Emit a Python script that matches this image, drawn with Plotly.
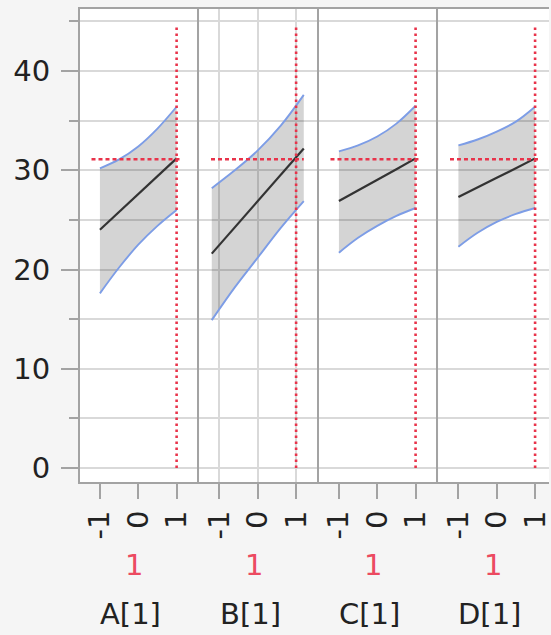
import plotly.graph_objects as go
from plotly.subplots import make_subplots

# ---- data ----
factors = ["A[1]", "B[1]", "C[1]", "D[1]"]
current_values = ["1", "1", "1", "1"]
current_x = [1, 1, 1, 1]
predicted = 31.1

x_A = [-1, -0.5, 0, 0.5, 1]
x_B = [-1.2, -0.6, 0, 0.6, 1.2]
x_C = [-1, -0.5, 0, 0.5, 1]
x_D = [-1, -0.5, 0, 0.5, 1]

center_A = [24.0, 25.8, 27.6, 29.4, 31.2]
upper_A = [30.2, 31.1, 32.4, 34.2, 36.4]
lower_A = [17.6, 20.2, 22.5, 24.4, 26.0]

center_B = [21.6, 24.25, 26.9, 29.55, 32.2]
upper_B = [28.2, 30.0, 32.0, 34.5, 37.6]
lower_B = [14.9, 18.2, 21.2, 24.2, 26.9]

center_C = [26.9, 27.95, 29.05, 30.1, 31.2]
upper_C = [31.9, 32.5, 33.4, 34.7, 36.5]
lower_C = [21.7, 23.2, 24.4, 25.4, 26.2]

center_D = [27.3, 28.3, 29.25, 30.2, 31.2]
upper_D = [32.5, 33.1, 33.9, 34.9, 36.4]
lower_D = [22.3, 23.7, 24.8, 25.6, 26.2]

x_ticks = [-1, 0, 1]
x_tick_text = ["-1", "0", "1"]
y_ticks = [0, 10, 20, 30, 40]

panels = [
    (x_A, center_A, upper_A, lower_A),
    (x_B, center_B, upper_B, lower_B),
    (x_C, center_C, upper_C, lower_C),
    (x_D, center_D, upper_D, lower_D),
]
hline_span = [(-1.22, 1.14), (-1.22, 1.2), (-1.22, 1.12), (-1.22, 1.12)]
vline_top = 44.4

# ---- styles ----
BLUE = "#7d9de6"
RED = "#e8334a"
GRID = "#d9d9d9"
BORDER = "#a3a3a3"
FONT = "DejaVu Sans"
TXT = "#222222"

fig = make_subplots(rows=1, cols=4, shared_yaxes=True, horizontal_spacing=0)

for i, (xs, c, u, l) in enumerate(panels):
    col = i + 1
    fig.add_trace(go.Scatter(x=xs, y=l, mode="lines",
                             line=dict(color=BLUE, width=1.9, shape="spline", smoothing=1),
                             hoverinfo="skip", showlegend=False), row=1, col=col)
    fig.add_trace(go.Scatter(x=xs, y=u, mode="lines", fill="tonexty",
                             fillcolor="rgba(0,0,0,0.17)",
                             line=dict(color=BLUE, width=1.9, shape="spline", smoothing=1),
                             hoverinfo="skip", showlegend=False), row=1, col=col)
    fig.add_trace(go.Scatter(x=xs, y=c, mode="lines",
                             line=dict(color="#333333", width=2.2),
                             hoverinfo="skip", showlegend=False), row=1, col=col)
    x0, x1 = hline_span[i]
    fig.add_trace(go.Scatter(x=[x0, x1], y=[predicted, predicted], mode="lines",
                             line=dict(color=RED, width=2.5, dash="4px,3px"),
                             hoverinfo="skip", showlegend=False), row=1, col=col)
    fig.add_trace(go.Scatter(x=[current_x[i], current_x[i]], y=[0, vline_top], mode="lines",
                             line=dict(color=RED, width=2.6, dash="2.6px,3.4px"),
                             hoverinfo="skip", showlegend=False), row=1, col=col)

# layout geometry
W, H = 551, 635
left, top, bottom_px = 80, 9, 482
plot_w = W - left
pw = 120
domains = [[0, pw / plot_w], [pw / plot_w, 2 * pw / plot_w],
           [2 * pw / plot_w, 3 * pw / plot_w], [3 * pw / plot_w, 1]]
ppu = 38.5
x_lo = -1.52
xranges = [[x_lo, x_lo + pw / ppu]] * 3 + [[x_lo, x_lo + (plot_w - 3 * pw) / ppu]]

for i in range(4):
    key = "xaxis" if i == 0 else f"xaxis{i+1}"
    fig.layout[key].update(
        domain=domains[i], range=xranges[i],
        tickmode="array", tickvals=x_ticks, ticktext=x_tick_text, tickangle=-90,
        ticks="outside", ticklen=15, tickwidth=2, tickcolor=BORDER,
        tickfont=dict(family=FONT, size=29, color=TXT),
        ticklabeloverflow="allow",
        showline=True, linecolor=BORDER, linewidth=2, mirror=True,
        showgrid=(i == 1), gridcolor=GRID, gridwidth=2,
        zeroline=False, fixedrange=True,
    )
    ykey = "yaxis" if i == 0 else f"yaxis{i+1}"
    fig.layout[ykey].update(
        range=[-1.41, 46.25], tickvals=y_ticks,
        showgrid=True, gridcolor=GRID, gridwidth=1.8,
        minor=dict(dtick=5, tick0=0, showgrid=True, gridcolor=GRID, gridwidth=1.8,
                   ticks="outside" if i == 0 else "", ticklen=9, tickwidth=2,
                   tickcolor=BORDER),
        ticks="outside" if i == 0 else "", ticklen=17, tickwidth=2, tickcolor=BORDER,
        showticklabels=(i == 0),
        tickfont=dict(family=FONT, size=29, color=TXT),
        ticklabelstandoff=5,
        showline=True, linecolor=BORDER, linewidth=2, mirror=False,
        zeroline=False, fixedrange=True,
    )

annotations = []
for i in range(4):
    xr = "x" if i == 0 else f"x{i+1}"
    annotations.append(dict(x=-0.1, y=0, xref=xr, yref="paper", yshift=-83,
                            text=current_values[i], showarrow=False,
                            font=dict(family=FONT, size=29, color="#ec4a60"),
                            xanchor="center", yanchor="middle"))
    annotations.append(dict(x=-0.2, y=0, xref=xr, yref="paper", yshift=-132,
                            text=factors[i], showarrow=False,
                            font=dict(family=FONT, size=29, color=TXT),
                            xanchor="center", yanchor="middle"))

fig.update_layout(
    width=W, height=H,
    margin=dict(l=left, r=0, t=top, b=H - bottom_px, pad=0),
    paper_bgcolor="#f5f5f5", plot_bgcolor="#ffffff",
    annotations=annotations, showlegend=False,
)

fig.write_html("out.html")
